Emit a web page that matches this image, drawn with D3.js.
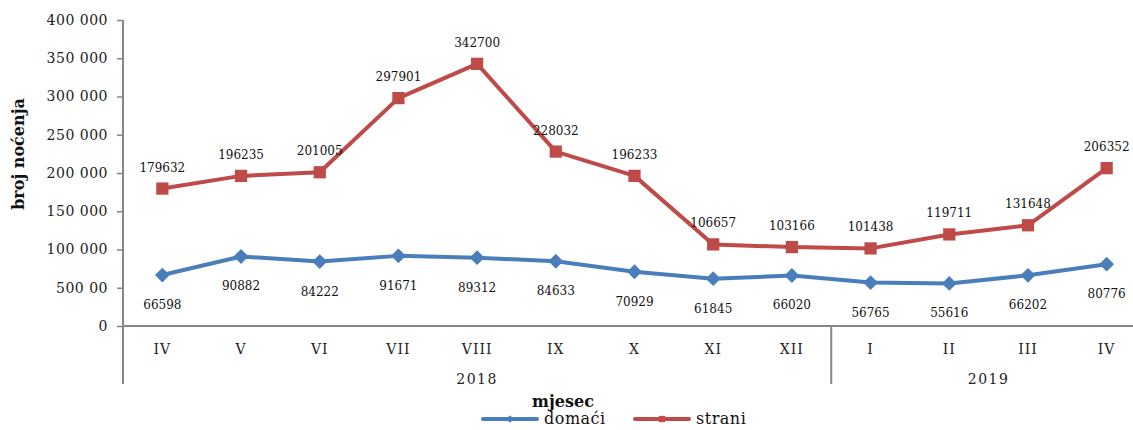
<!DOCTYPE html>
<html>
<head>
<meta charset="utf-8">
<script src="https://cdn.jsdelivr.net/npm/d3@7"></script>
<style>
  html, body { margin: 0; padding: 0; background: #fff; }
  svg { display: block; }
</style>
</head>
<body>
<svg id="chart" width="1133" height="430"></svg>
<script>
const months = ["IV","V","VI","VII","VIII","IX","X","XI","XII","I","II","III","IV"];
const monthYears = ["2018","2018","2018","2018","2018","2018","2018","2018","2018","2019","2019","2019","2019"];
const years = ["2018","2019"];
const domaci = [66598,90882,84222,91671,89312,84633,70929,61845,66020,56765,55616,66202,80776];
const strani = [179632,196235,201005,297901,342700,228032,196233,106657,103166,101438,119711,131648,206352];
const yTickValues = [0,50000,100000,150000,200000,250000,300000,350000,400000];
const yTickLabels = ["0","500 00","100 000","150 000","200 000","250 000","300 000","350 000","400 000"];
const seriesNames = ["domaći","strani"];

const svg = d3.select("#chart");
const serif = "'DejaVu Serif', serif";
const axisColor = "#868686";
const blue = "#4A7EBB";
const red = "#BE4B48";

const keys = months.map((m,i)=> monthYears[i] + "-" + m);
const x = d3.scaleBand().domain(keys).range([123, 1146]).padding(0);
const y = d3.scaleLinear().domain([0,400000]).range([326,20]);
const cx = i => x(keys[i]) + x.bandwidth()/2;

// Y axis
const yAxis = d3.axisLeft(y).tickValues(yTickValues).tickSize(6)
  .tickFormat((d,i)=> yTickLabels[i]);
const gy = svg.append("g").attr("transform","translate(123,0)").call(yAxis);
gy.select(".domain").remove();
gy.selectAll(".tick line").attr("stroke", axisColor).attr("stroke-width",1.5);
gy.selectAll(".tick text").attr("x",-15).attr("font-family",serif).attr("font-size",14)
  .attr("letter-spacing","0.5px").attr("fill","#222");
svg.append("line").attr("x1",123).attr("x2",123).attr("y1",y(400000)).attr("y2",384)
  .attr("stroke",axisColor).attr("stroke-width",2);

// X axis
svg.append("line").attr("x1",123).attr("x2",1133).attr("y1",y(0)).attr("y2",y(0))
  .attr("stroke",axisColor).attr("stroke-width",2);
const xAxis = d3.axisBottom(x).tickSize(0).tickFormat((d,i)=> months[i]);
const gx = svg.append("g").attr("transform",`translate(0,${y(0)})`).call(xAxis);
gx.select(".domain").remove();
gx.selectAll(".tick text").attr("dy",0).attr("y",28).attr("font-family",serif)
  .attr("font-size",14).attr("letter-spacing","1px").attr("fill","#222");

// year groups
years.forEach(yr => {
  const idx = monthYears.map((v,i)=> v===yr ? i : -1).filter(i=>i>=0);
  const x0 = x(keys[idx[0]]);
  const x1 = x(keys[idx[idx.length-1]]) + x.bandwidth();
  svg.append("text").attr("x",(x0+x1)/2).attr("y",384).attr("text-anchor","middle")
    .attr("font-family",serif).attr("font-size",14).attr("letter-spacing","1.5px")
    .attr("fill","#222").text(yr);
  if (idx[0] > 0) {
    svg.append("line").attr("x1",x0).attr("x2",x0).attr("y1",y(0)).attr("y2",384)
      .attr("stroke",axisColor).attr("stroke-width",2);
  }
});

// axis titles
svg.append("text").attr("transform","translate(24,154) rotate(-90)").attr("text-anchor","middle")
  .attr("font-family",serif).attr("font-weight","bold").attr("font-size",16).attr("fill","#111")
  .text("broj noćenja");
svg.append("text").attr("x",563).attr("y",407).attr("text-anchor","middle")
  .attr("font-family",serif).attr("font-weight","bold").attr("font-size",16).attr("fill","#111")
  .text("mjesec");

// lines
const line = d3.line().x((d,i)=>cx(i)).y(d=>y(d));
svg.append("path").datum(domaci).attr("d",line).attr("fill","none")
  .attr("stroke",blue).attr("stroke-width",4).attr("stroke-linejoin","round");
svg.append("path").datum(strani).attr("d",line).attr("fill","none")
  .attr("stroke",red).attr("stroke-width",4).attr("stroke-linejoin","round");

svg.append("g").selectAll("path").data(domaci).join("path")
  .attr("d", d3.symbol().type(d3.symbolSquare).size(110)())
  .attr("transform",(d,i)=>`translate(${cx(i)},${y(d)}) rotate(45)`)
  .attr("fill",blue);
svg.append("g").selectAll("path").data(strani).join("path")
  .attr("d", d3.symbol().type(d3.symbolSquare).size(150)())
  .attr("transform",(d,i)=>`translate(${cx(i)},${y(d)})`)
  .attr("fill",red);

// data labels
svg.append("g").selectAll("text").data(domaci).join("text")
  .attr("x",(d,i)=>cx(i)).attr("y",d=>y(d)+34).attr("text-anchor","middle")
  .attr("font-family",serif).attr("font-size",12).attr("fill","#111").text(d=>d);
svg.append("g").selectAll("text").data(strani).join("text")
  .attr("x",(d,i)=>cx(i)).attr("y",d=>y(d)-17).attr("text-anchor","middle")
  .attr("font-family",serif).attr("font-size",12).attr("fill","#111").text(d=>d);

// legend
const leg = [{name:seriesNames[0], color:blue, x:483, type:"diamond"},
             {name:seriesNames[1], color:red, x:635, type:"square"}];
leg.forEach(l => {
  svg.append("line").attr("x1",l.x).attr("x2",l.x+54).attr("y1",419).attr("y2",419)
    .attr("stroke",l.color).attr("stroke-width",4).attr("stroke-linecap","round");
  const sym = l.type==="diamond"
    ? d3.symbol().type(d3.symbolSquare).size(30)()
    : d3.symbol().type(d3.symbolSquare).size(40)();
  svg.append("path").attr("d",sym)
    .attr("transform",`translate(${l.x+27},419)${l.type==="diamond"?" rotate(45)":""}`)
    .attr("fill",l.color);
  svg.append("text").attr("x",l.x+61).attr("y",424).attr("font-family",serif)
    .attr("font-size",16).attr("letter-spacing","0.5px").attr("fill","#111").text(l.name);
});
</script>
</body>
</html>
